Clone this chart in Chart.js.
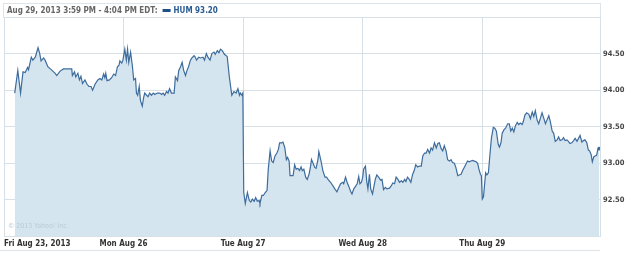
<!DOCTYPE html>
<html>
<head>
<meta charset="utf-8">
<script src="https://cdn.jsdelivr.net/npm/chart.js@4.4.0/dist/chart.umd.min.js"></script>
<style>
html, body { margin: 0; padding: 0; background: #fff; }
canvas { display: block; }
</style>
</head>
<body>
<canvas id="chart" width="625" height="256"></canvas>
<script>
const symbol = 'HUM';
const headerText = 'Aug 29, 2013 3:59 PM - 4:04 PM EDT:';
const copyrightText = '\u00a9 2013 Yahoo! Inc.';
const dayLabels = ['Fri Aug 23, 2013', 'Mon Aug 26', 'Tue Aug 27', 'Wed Aug 28', 'Thu Aug 29'];
const minutesPerDay = 390; // 9:30 - 16:00 session
const priceTicks = [92.5, 93.0, 93.5, 94.0, 94.5];

// minutes since Friday's open, sessions laid end to end
const minutes = [
  35, 45, 54, 62, 69, 77, 80, 89, 94, 102, 111, 116, 121, 129, 134, 143, 154, 167, 172, 183,
  194, 210, 221, 223, 230, 234, 241, 246, 251, 256, 264, 271, 277, 284, 289, 297, 306, 313, 319, 325,
  329, 332, 336, 344, 351, 358, 364, 370, 375, 378, 384, 388,
  394, 399, 403, 407, 413, 419, 423, 429, 432, 436, 441, 445, 451, 455, 459, 465, 470, 475, 481, 487,
  492, 500, 508, 514, 519, 524, 530, 535, 540, 546, 555, 559, 566, 570, 576, 581, 586, 592, 597, 602,
  608, 613, 620, 624, 628, 635, 641, 649, 654, 660, 665, 672, 678, 685, 689, 696, 701, 706, 712, 719,
  728, 735, 743, 750, 757, 763, 768, 771, 776, 779,
  782, 787, 794, 800, 805, 810, 816, 821, 826, 832, 835, 841, 846, 852, 858, 862, 868, 873, 878, 884,
  890, 895, 899, 906, 910, 916, 921, 925, 930, 933, 938, 943, 948, 953, 959, 964, 969, 973, 978, 984,
  989, 995, 1000, 1003, 1008, 1014, 1018, 1024, 1027, 1033, 1036, 1040, 1047, 1052, 1057, 1065, 1073, 1079, 1086, 1092,
  1098, 1105, 1108, 1114, 1119, 1125, 1130, 1135, 1141, 1146, 1152, 1157, 1161, 1166,
  1170, 1173, 1179, 1183, 1187, 1192, 1196, 1202, 1207, 1211, 1216, 1222, 1228, 1233, 1238, 1244, 1249, 1257, 1263, 1268,
  1274, 1279, 1285, 1290, 1296, 1301, 1307, 1311, 1316, 1322, 1327, 1333, 1338, 1343, 1349, 1354, 1361, 1366, 1372, 1377,
  1382, 1388, 1393, 1398, 1404, 1410, 1415, 1420, 1426, 1431, 1436, 1442, 1447, 1453, 1458, 1463, 1469, 1474, 1480, 1485,
  1491, 1496, 1502, 1507, 1512, 1518, 1523, 1528, 1534, 1540, 1545, 1549, 1554, 1557,
  1560, 1564, 1571, 1575, 1580, 1585, 1590, 1596, 1601, 1606, 1612, 1616, 1621, 1625, 1631, 1636, 1643, 1648, 1653, 1658,
  1663, 1668, 1674, 1679, 1684, 1690, 1694, 1699, 1705, 1712, 1717, 1723, 1728, 1733, 1739, 1744, 1750, 1755, 1761, 1766,
  1771, 1777, 1782, 1788, 1793, 1798, 1804, 1809, 1814, 1820, 1825, 1830, 1836, 1841, 1846, 1852, 1858, 1863, 1869, 1874,
  1879, 1885, 1890, 1895, 1901, 1906, 1910, 1915, 1919, 1924, 1928, 1933, 1937, 1941
];

const prices = [
  93.96, 94.27, 93.96, 94.25, 94.24, 94.31, 94.28, 94.45, 94.41, 94.45, 94.58, 94.51, 94.40, 94.44, 94.41, 94.32, 94.28, 94.23, 94.20, 94.26,
  94.29, 94.29, 94.29, 94.20, 94.25, 94.18, 94.23, 94.14, 94.19, 94.09, 94.14, 94.08, 94.05, 94.05, 94.00, 94.08, 94.14, 94.16, 94.14, 94.22,
  94.17, 94.23, 94.13, 94.14, 94.17, 94.22, 94.20, 94.32, 94.34, 94.40, 94.37, 94.41,
  94.56, 94.41, 94.56, 94.38, 94.52, 94.32, 94.14, 94.16, 93.96, 93.93, 94.05, 93.86, 93.78, 93.89, 93.96, 93.93, 93.91, 93.96, 93.93, 93.96,
  93.94, 93.96, 93.96, 93.94, 93.96, 93.93, 93.98, 93.96, 94.02, 93.96, 93.96, 94.18, 94.13, 94.27, 94.32, 94.38, 94.27, 94.20, 94.27, 94.32,
  94.41, 94.44, 94.47, 94.45, 94.41, 94.45, 94.44, 94.45, 94.41, 94.50, 94.45, 94.41, 94.50, 94.52, 94.49, 94.54, 94.51, 94.56, 94.54, 94.49,
  94.46, 94.18, 93.93, 93.98, 93.96, 94.02, 93.93, 93.96, 93.93, 93.96,
  92.60, 92.45, 92.60, 92.49, 92.47, 92.51, 92.48, 92.53, 92.48, 92.49, 92.45, 92.56, 92.56, 92.60, 92.63, 92.92, 93.17, 93.03, 93.01, 93.10,
  93.14, 93.19, 93.28, 93.28, 93.29, 93.21, 93.05, 93.08, 93.03, 92.83, 92.83, 92.83, 92.98, 92.92, 92.93, 92.90, 92.95, 92.90, 92.92, 92.81,
  92.78, 92.85, 92.96, 93.05, 93.00, 92.94, 92.93, 93.05, 93.16, 93.05, 92.99, 92.90, 92.81, 92.81, 92.78, 92.74, 92.69, 92.65, 92.61, 92.67,
  92.72, 92.74, 92.72, 92.81, 92.74, 92.68, 92.62, 92.58, 92.65, 92.68, 92.72, 92.82, 92.72, 92.74,
  92.81, 92.92, 92.96, 92.76, 92.65, 92.85, 92.65, 92.58, 92.69, 92.78, 92.84, 92.81, 92.77, 92.78, 92.64, 92.67, 92.65, 92.66, 92.69, 92.73,
  92.72, 92.81, 92.78, 92.74, 92.76, 92.74, 92.78, 92.75, 92.81, 92.78, 92.74, 92.85, 92.90, 92.98, 92.95, 92.96, 92.96, 93.10, 93.14, 93.14,
  93.19, 93.14, 93.21, 93.18, 93.28, 93.21, 93.27, 93.28, 93.20, 93.17, 93.24, 93.17, 93.05, 93.03, 93.05, 93.01, 93.00, 92.94, 92.83, 92.84,
  92.85, 92.90, 92.95, 92.99, 93.03, 93.02, 93.03, 93.04, 93.03, 93.02, 93.00, 92.92, 92.85, 92.83,
  92.51, 92.54, 92.87, 92.84, 92.87, 93.12, 93.35, 93.49, 93.48, 93.44, 93.26, 93.22, 93.28, 93.41, 93.46, 93.48, 93.54, 93.54, 93.44, 93.48,
  93.43, 93.51, 93.56, 93.53, 93.55, 93.53, 93.57, 93.66, 93.69, 93.67, 93.61, 93.70, 93.64, 93.72, 93.59, 93.54, 93.62, 93.69, 93.61, 93.54,
  93.59, 93.65, 93.57, 93.44, 93.41, 93.30, 93.32, 93.36, 93.31, 93.32, 93.35, 93.31, 93.32, 93.30, 93.27, 93.28, 93.31, 93.34, 93.30, 93.34,
  93.38, 93.29, 93.31, 93.32, 93.28, 93.18, 93.17, 93.12, 93.02, 93.09, 93.10, 93.11, 93.19, 93.20
];

const lineColor = '#3e6c9c';
const fillColor = '#d5e5f0';
const gridColor = '#d8e0e7';
const smallFont = "'DejaVu Sans Condensed', 'DejaVu Sans', sans-serif";

const xMax = minutesPerDay * 4 + 384;
const dayTicks = dayLabels.map((d, i) => i * minutesPerDay).concat([xMax]);

const points = minutes.map((m, i) => ({x: m, y: prices[i]}));
const lastPrice = prices[prices.length - 1];

// header strip, copyright and bottom rule
const decorations = {
  id: 'decorations',
  beforeDraw(chart) {
    const ctx = chart.ctx, a = chart.chartArea;
    ctx.save();
    ctx.strokeStyle = '#dfe4e9';
    ctx.lineWidth = 1;
    ctx.strokeRect(3.5, 3.5, a.right - 3, a.top - 3);
    ctx.beginPath();
    ctx.moveTo(0, 250.5);
    ctx.lineTo(a.right, 250.5);
    ctx.stroke();
    ctx.font = 'bold 8px ' + smallFont;
    ctx.textBaseline = 'middle';
    ctx.fillStyle = '#666';
    ctx.fillText(headerText, 7, 10.5);
    const w = ctx.measureText(headerText).width;
    ctx.fillStyle = '#1f4f88';
    ctx.fillRect(7 + w + 5, 9, 8, 3);
    ctx.fillStyle = '#2a5c94';
    ctx.fillText(symbol + ' ' + lastPrice.toFixed(2), 7 + w + 16, 10.5);
    ctx.restore();
  },
  afterDatasetsDraw(chart) {
    const ctx = chart.ctx, a = chart.chartArea;
    ctx.save();
    ctx.font = '7px ' + smallFont;
    ctx.fillStyle = '#b9c9d6';
    ctx.textBaseline = 'middle';
    ctx.fillText(copyrightText, a.left + 4, a.bottom - 10);
    ctx.restore();
  }
};

new Chart(document.getElementById('chart'), {
  type: 'line',
  data: {
    datasets: [{
      label: symbol,
      data: points,
      borderColor: lineColor,
      backgroundColor: fillColor,
      borderWidth: 1.2,
      fill: 'start',
      tension: 0,
      pointRadius: ctx => ctx.dataIndex === points.length - 1 ? 1.8 : 0,
      pointBackgroundColor: lineColor,
      pointBorderWidth: 0
    }]
  },
  options: {
    responsive: false,
    animation: false,
    layout: {padding: {top: 17, left: 3, right: 0, bottom: 4}},
    plugins: {legend: {display: false}, tooltip: {enabled: false}},
    scales: {
      x: {
        type: 'linear',
        min: 0,
        max: xMax,
        z: 1,
        afterBuildTicks: scale => { scale.ticks = dayTicks.map(v => ({value: v})); },
        grid: {color: gridColor, drawTicks: false},
        border: {color: gridColor},
        ticks: {
          autoSkip: false,
          maxRotation: 0,
          align: 'inner',
          padding: 3,
          color: '#333',
          font: {family: smallFont, size: 8, weight: 'bold'},
          callback: (v, i) => dayLabels[i] || ''
        }
      },
      y: {
        position: 'right',
        min: 92,
        max: 95,
        z: 1,
        afterBuildTicks: scale => { scale.ticks = [92].concat(priceTicks, [95]).map(v => ({value: v})); },
        afterFit: scale => { scale.width = 25; },
        grid: {color: gridColor, drawTicks: false},
        border: {color: gridColor},
        ticks: {
          padding: 3,
          color: '#444',
          font: {family: smallFont, size: 7.5, weight: 'bold'},
          callback: v => priceTicks.includes(v) ? v.toFixed(2) : ''
        }
      }
    }
  },
  plugins: [decorations]
});
</script>
</body>
</html>
